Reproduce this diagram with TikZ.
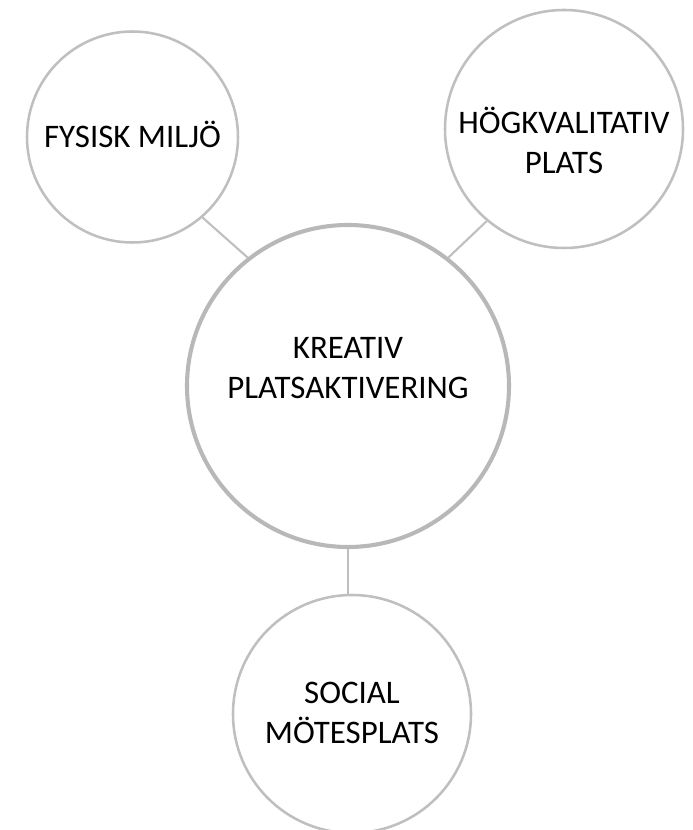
\documentclass[tikz,border=0pt]{standalone}
\usepackage{fontspec}
\setmainfont{Carlito}
\usepackage{xcolor}
\usetikzlibrary{positioning}

\definecolor{ringgray}{RGB}{191,191,191}
\definecolor{hubgray}{RGB}{184,184,184}

\begin{document}
\begin{tikzpicture}[
      x = 1cm, y = 1cm,
      ring/.style = {circle, draw = ringgray, fill = white, line width = 1.8pt, inner sep = 0pt},
      hub/.style  = {circle, draw = hubgray, fill = white, line width = 2.9pt, inner sep = 0pt},
      link/.style = {draw = ringgray, line width = 1.5pt},
      lbl/.style  = {font = \fontsize{23.4}{28.5}\selectfont, align = center, inner sep = 0pt}
    ]
  \useasboundingbox (0,0) rectangle (17.325,20.75);

  % ---------- circles ---------------------------------------------------
  \node[hub,  minimum size = 8.05cm]  (kreativ) at (8.70,11.10)  {};
  \node[ring, minimum size = 5.275cm] (fysisk)  at (3.3125,17.325) {};
  \node[ring, minimum size = 5.95cm]  (hogk)    at (14.10,17.525) {};
  \node[ring, minimum size = 5.95cm]  (social)  at (8.80,2.90)    {};

  % ---------- connectors ------------------------------------------------
  \draw[link] (kreativ.128.5) -- (fysisk.-49);
  \draw[link] (kreativ.52.6)  -- (hogk.-130.6);
  \draw[link] (kreativ.south) -- (kreativ.south |- social.north);

  % ---------- labels ----------------------------------------------------
  \node[lbl] (kreativtxt) at ([yshift=0.45cm]kreativ.center) {KREATIV\\ PLATSAKTIVERING};
  \node[lbl] (fysisktxt)  at ([yshift=0.06cm]fysisk.center)  {FYSISK MILJÖ};
  \node[lbl] (hogktxt)    at ([yshift=-0.28cm]hogk.center)   {HÖGKVALITATIV\\ PLATS};
  \node[lbl] (socialtxt)  at ([yshift=0.02cm]social.center)  {SOCIAL\\ MÖTESPLATS};

\end{tikzpicture}
\end{document}
